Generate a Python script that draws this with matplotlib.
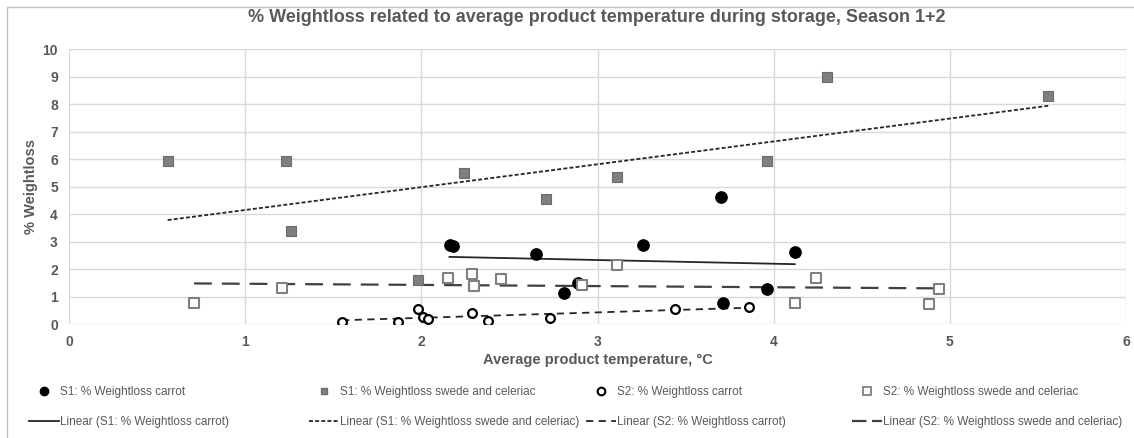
import numpy as np
import matplotlib
matplotlib.use("Agg")
import matplotlib.pyplot as plt
from matplotlib.lines import Line2D

plt.rcParams['font.family'] = ['Liberation Sans', 'DejaVu Sans']

# Season 1, carrot
s1_carrot_temp = [2.16, 2.18, 2.65, 2.81, 2.89, 3.26, 3.70, 3.71, 3.96, 4.12]
s1_carrot_loss = [2.87, 2.84, 2.55, 1.14, 1.50, 2.87, 4.64, 0.78, 1.29, 2.62]

# Season 1, swede and celeriac
s1_swede_temp = [0.56, 1.23, 1.26, 1.98, 2.24, 2.71, 3.11, 3.96, 4.30, 5.56]
s1_swede_loss = [5.95, 5.95, 3.40, 1.60, 5.51, 4.55, 5.35, 5.95, 9.00, 8.31]

# Season 2, carrot
s2_carrot_temp = [1.55, 1.87, 1.98, 2.01, 2.04, 2.29, 2.38, 2.73, 3.44, 3.86]
s2_carrot_loss = [0.08, 0.09, 0.53, 0.25, 0.20, 0.41, 0.11, 0.23, 0.56, 0.61]

# Season 2, swede and celeriac
s2_swede_temp = [0.71, 1.21, 2.15, 2.29, 2.30, 2.45, 2.91, 3.11, 4.12, 4.24, 4.88, 4.94]
s2_swede_loss = [0.75, 1.32, 1.69, 1.81, 1.40, 1.63, 1.43, 2.14, 0.76, 1.66, 0.73, 1.27]

labels = ["S1: % Weightloss carrot", "S1: % Weightloss swede and celeriac",
          "S2: % Weightloss carrot", "S2: % Weightloss swede and celeriac"]

txt = "#595959"
grid = "#d9d9d9"

fig = plt.figure(figsize=(11.34, 4.38), dpi=100)
ax = fig.add_axes([69 / 1134, 1 - 324 / 438, (1126 - 69) / 1134, (324 - 49.3) / 438])


def trend(x, y):
    x = np.asarray(x)
    k, b = np.polyfit(x, np.asarray(y), 1)
    xs = np.array([x.min(), x.max()])
    return xs, k * xs + b


# trendlines
tx, ty = trend(s1_carrot_temp, s1_carrot_loss)
ax.plot(tx, ty, color="#262626", lw=1.3, ls="-", zorder=2)
tx, ty = trend(s1_swede_temp, s1_swede_loss)
ax.plot(tx, ty, color="#262626", lw=1.3, ls=(0, (2.2, 1.2)), zorder=2)
tx, ty = trend(s2_carrot_temp, s2_carrot_loss)
ax.plot(tx, ty, color="#262626", lw=1.3, ls=(0, (4, 3)), zorder=2)
tx, ty = trend(s2_swede_temp, s2_swede_loss)
ax.plot(tx, ty, color="#404040", lw=1.6, ls=(0, (8, 4.5)), zorder=2)

# points
ax.scatter(s1_carrot_temp, s1_carrot_loss, s=66, marker="o", color="black", zorder=3)
ax.scatter(s1_swede_temp, s1_swede_loss, s=42, marker="s", facecolor="#7f7f7f",
           edgecolor="#6b6b6b", lw=0.8, zorder=3)
ax.scatter(s2_carrot_temp, s2_carrot_loss, s=40, marker="o", facecolor="white",
           edgecolor="black", lw=1.6, zorder=3)
ax.scatter(s2_swede_temp, s2_swede_loss, s=50, marker="s", facecolor="white",
           edgecolor="#7f7f7f", lw=1.5, zorder=3)

ax.set_xlim(0, 6)
ax.set_ylim(0, 10)
ax.set_xticks(range(0, 7))
ax.set_yticks(range(0, 11))
ax.grid(True, color=grid, lw=1)
ax.set_axisbelow(True)
for s in ax.spines.values():
    s.set_visible(False)
ax.tick_params(length=0, labelsize=10, labelcolor=txt, pad=8)
for lab in ax.get_xticklabels() + ax.get_yticklabels():
    lab.set_fontweight("bold")

ax.set_xlabel("Average product temperature, \u00b0C", fontsize=10.5, fontweight="bold",
              color=txt, labelpad=3)
ax.set_ylabel("% Weightloss", fontsize=10.5, fontweight="bold", color=txt, labelpad=3)
fig.text(597 / 1134, 1 - 18 / 438, "% Weightloss related to average product temperature during storage, Season 1+2",
         ha="center", va="center", fontsize=13, fontweight="bold", color=txt)

# legend, four columns laid out like the original
mk = [Line2D([], [], ls="none", marker="o", color="black", markersize=6),
      Line2D([], [], ls="none", marker="s", markerfacecolor="#7f7f7f", markeredgecolor="#6b6b6b", markersize=4.5),
      Line2D([], [], ls="none", marker="o", markerfacecolor="white", markeredgecolor="black",
             markeredgewidth=1.5, markersize=5.5),
      Line2D([], [], ls="none", marker="s", markerfacecolor="white", markeredgecolor="#7f7f7f",
             markeredgewidth=1.3, markersize=5.5)]
ln = [Line2D([], [], color="#262626", lw=1.3, ls="-"),
      Line2D([], [], color="#262626", lw=1.3, ls=(0, (2.2, 1.2))),
      Line2D([], [], color="#262626", lw=1.3, ls=(0, (4, 3))),
      Line2D([], [], color="#404040", lw=1.6, ls=(0, (6.5, 2.5)))]
col_x = [29, 309, 586, 852]
for i in range(4):
    leg = fig.legend([mk[i], ln[i]], [labels[i], "Linear (" + labels[i] + ")"],
                     loc="upper left", bbox_to_anchor=(col_x[i] / 1134, 1 - 386 / 438),
                     frameon=False, fontsize=8.5, handlelength=2.5, handletextpad=0.12,
                     labelspacing=1.55, borderpad=0, borderaxespad=0)
    for t in leg.get_texts():
        t.set_color(txt)

# chart border
fig.add_artist(plt.Rectangle((7 / 1134, -0.1), 1.2, 1.1 - 7 / 438, transform=fig.transFigure,
                             fill=False, edgecolor="#bfbfbf", lw=1))

fig.savefig("out.png", dpi=100, facecolor="white")
